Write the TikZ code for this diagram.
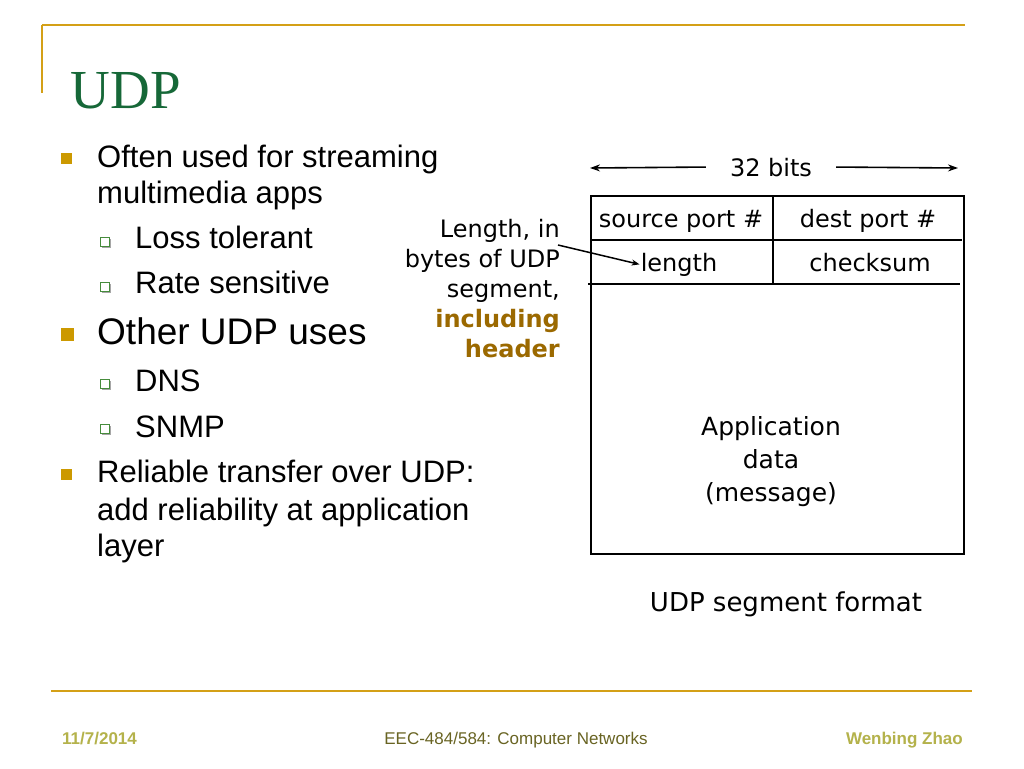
\documentclass[tikz,border=0pt]{standalone}
\usepackage{fontspec}
\setmainfont{Liberation Sans}
\newfontfamily\comicf{DejaVu Sans}
\newfontfamily\titlef{Liberation Serif}
\usetikzlibrary{arrows.meta}
\definecolor{goldline}{RGB}{212,160,23}
\definecolor{bulletgold}{RGB}{204,153,0}
\definecolor{titlegreen}{RGB}{22,104,56}
\definecolor{subgreen}{RGB}{70,140,60}
\definecolor{annobrown}{RGB}{155,105,0}
\definecolor{footolive}{RGB}{180,178,75}
\definecolor{footdark}{RGB}{105,100,35}
\begin{document}
\begin{tikzpicture}[x=1pt,y=-1pt,
  rule/.style={draw=goldline,line width=2pt},
  txt/.style={anchor=base west,inner sep=0pt,font=\fontsize{31}{37}\selectfont},
  bigtxt/.style={anchor=base west,inner sep=0pt,font=\fontsize{37}{44}\selectfont},
  markone/.style={fill=bulletgold,inner sep=0pt,minimum size=11pt},
  markbig/.style={fill=bulletgold,inner sep=0pt,minimum size=13pt},
  marktwo/.style={draw=subgreen,fill=white,line width=1.4pt,inner sep=0pt,minimum size=9pt},
  marktwoshadow/.style={fill=black!35,inner sep=0pt,minimum size=9pt},
  dtxt/.style={inner sep=0pt,font=\comicf\fontsize{24}{30}\selectfont},
  anno/.style={dtxt,anchor=base east},
  annob/.style={dtxt,anchor=base east,text=annobrown,font=\comicf\bfseries\fontsize{24}{30}\selectfont},
  frame/.style={draw=black,line width=2pt},
  arr/.style={line width=1.6pt,-{Stealth[length=10pt,width=7pt]}},
  foot/.style={inner sep=0pt,font=\fontsize{17}{20}\selectfont},
  footb/.style={inner sep=0pt,font=\bfseries\fontsize{17}{20}\selectfont}
]
\useasboundingbox[fill=white] (0,0) rectangle (1024,768);

% decorative rules
\draw[rule] (42,25) -- (965,25);
\draw[rule] (42,25) -- (42,93);
\draw[rule] (51,691) -- (972,691);

% title
\node[anchor=base west,inner sep=0pt,text=titlegreen,font=\titlef\fontsize{55}{60}\selectfont] (title) at (70.5,108) {UDP};

% bullets
\node[markone] (b1) at (66,158) {};
\node[txt] (t1a) at (97,167) {Often used for streaming};
\node[txt] (t1b) at (97,203) {multimedia apps};
\node[marktwoshadow] (s1s) at (106.5,243.5) {};
\node[marktwo] (s1) at (105,242) {};
\node[txt] (t2) at (135,248) {Loss tolerant};
\node[marktwoshadow] (s2s) at (106.5,288.5) {};
\node[marktwo] (s2) at (105,287) {};
\node[txt] (t3) at (135,293) {Rate sensitive};
\node[markbig] (b2) at (67,334) {};
\node[bigtxt] (t4) at (97,344) {Other UDP uses};
\node[marktwoshadow] (s3s) at (106.5,385.5) {};
\node[marktwo] (s3) at (105,384) {};
\node[txt] (t5) at (135,391) {DNS};
\node[marktwoshadow] (s4s) at (106.5,430.5) {};
\node[marktwo] (s4) at (105,429) {};
\node[txt] (t6) at (135,437) {SNMP};
\node[markone] (b3) at (66,474) {};
\node[txt] (t7a) at (97,482) {Reliable transfer over UDP:};
\node[txt] (t7b) at (97,520) {add reliability at application};
\node[txt] (t7c) at (97,556) {layer};

% UDP segment diagram
\node[dtxt,anchor=base,inner xsep=24pt] (bits) at (771,176) {32 bits};
\coordinate (bitsl) at (590,168);
\coordinate (bitsr) at (958,168);
\draw[arr] (bits.west) -- (bitsl);
\draw[arr] (bits.east) -- (bitsr);

\node[frame,anchor=north west,inner sep=0pt,minimum width=373pt,minimum height=358pt] (seg) at (590,195) {};
\draw[frame] (590,240) -- (962,240);
\draw[frame] (588,284) -- (960,284);
\draw[frame] (773,195) -- (773,284);

\node[dtxt,anchor=base] (srcport) at (681,227) {source port \#};
\node[dtxt,anchor=base] (dstport) at (868,227) {dest port \#};
\node[dtxt,anchor=base] (lenfield) at (679,271) {length};
\node[dtxt,anchor=base] (cksum) at (870,271) {checksum};
\node[dtxt,anchor=base,font=\comicf\fontsize{25}{30}\selectfont] (app1) at (771,435) {Application};
\node[dtxt,anchor=base,font=\comicf\fontsize{25}{30}\selectfont] (app2) at (771,468) {data};
\node[dtxt,anchor=base,font=\comicf\fontsize{25}{30}\selectfont] (app3) at (771,501) {(message)};
\node[dtxt,anchor=base,font=\comicf\fontsize{26}{30}\selectfont] (caption) at (786,611) {UDP segment format};

% annotation
\node[anno] (an1) at (560,237) {Length, in};
\node[anno] (an2) at (560,267) {bytes of UDP};
\node[anno] (an3) at (560,297) {segment,};
\node[annob] (an4) at (560,327) {including};
\node[annob] (an5) at (560,357) {header};
\coordinate (anstart) at (558,245);
\draw[line width=1.5pt,-{Stealth[length=8pt,width=6pt]}] (anstart) -- ([xshift=-1pt]lenfield.west);

% footer
\node[footb,anchor=base west,text=footolive] (date) at (62,744) {11/7/2014};
\node[foot,anchor=base,text=footdark] (course) at (516,744) {EEC-484/584: Computer Networks};
\node[footb,anchor=base east,text=footolive] (author) at (963,744) {Wenbing Zhao};
\end{tikzpicture}
\end{document}
